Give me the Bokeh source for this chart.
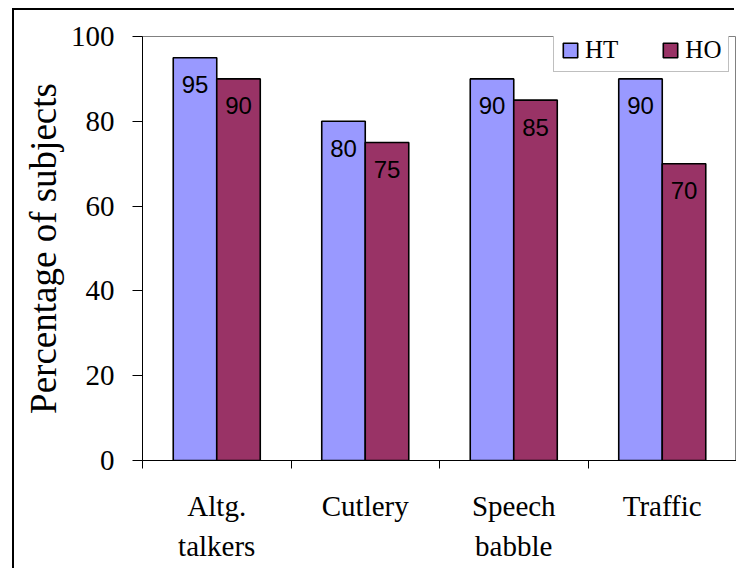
from bokeh.plotting import figure
from bokeh.models import (ColumnDataSource, Range1d, FixedTicker, Legend, LegendItem)
from bokeh.transform import dodge
from bokeh.core.properties import value
from bokeh.embed import file_html
from bokeh.resources import INLINE

# ---- data ----
categories = ["Altg.\ntalkers", "Cutlery", "Speech\nbabble", "Traffic"]
ht_values = [95, 80, 90, 90]
ho_values = [90, 75, 85, 70]
series_names = ["HT", "HO"]
y_ticks = [0, 20, 40, 60, 80, 100]

HT_COLOR = "#9999FF"
HO_COLOR = "#993366"
SERIF = "Liberation Serif"
SANS = "Liberation Sans"

centers = [i + 0.5 for i in range(len(categories))]
src = ColumnDataSource(dict(
    x=centers,
    ht=ht_values,
    ho=ho_values,
    ht_txt=[str(v) for v in ht_values],
    ho_txt=[str(v) for v in ho_values],
))

W, H = 722, 560
LEFT, TOP, BOTTOM = 128, 26, 110
cat_px = 148.5
frame_w = W - LEFT
x_end = frame_w / cat_px

p = figure(width=W, height=H, output_backend="svg", toolbar_location=None,
           x_range=Range1d(0, x_end), y_range=Range1d(0, 100),
           min_border_left=LEFT, min_border_top=TOP, min_border_bottom=BOTTOM,
           min_border_right=0, background_fill_color="white",
           border_fill_color="white")
p.styles = {"margin-left": "14px", "margin-top": "10px",
            "box-shadow": "-2px -2px 0px 0px black"}

p.xgrid.visible = False
p.ygrid.visible = False
p.outline_line_color = "#808080"
p.outline_line_width = 1

bw = 0.293
off = bw / 2
r_ht = p.vbar(x=dodge("x", -off), top="ht", width=bw, source=src,
              fill_color=HT_COLOR, line_color="black", line_width=1.6)
r_ho = p.vbar(x=dodge("x", off), top="ho", width=bw, source=src,
              fill_color=HO_COLOR, line_color="black", line_width=1.6)

for col, d in (("ht_txt", -off), ("ho_txt", off)):
    yname = "ht" if col == "ht_txt" else "ho"
    p.text(x=dodge("x", d), y=yname, text=col, source=src,
           text_font=value(SANS), text_font_size="24px", text_color="black",
           text_align="center", text_baseline="middle", y_offset=27)

# y axis
ya = p.yaxis[0]
ya.ticker = FixedTicker(ticks=y_ticks, minor_ticks=[])
ya.axis_line_color = "black"
ya.major_tick_line_color = "black"
ya.major_tick_in = 0
ya.major_tick_out = 10
ya.minor_tick_line_color = None
ya.major_label_text_font = SERIF
ya.major_label_text_font_size = "29px"
ya.major_label_text_color = "black"
ya.major_label_standoff = 18
ya.axis_label = "Percentage of subjects"
ya.axis_label_text_font = SERIF
ya.axis_label_text_font_size = "37px"
ya.axis_label_text_font_style = "normal"
ya.axis_label_text_color = "black"
ya.axis_label_standoff = 4

# x axis: labels at category centres, ticks at category boundaries
xa = p.xaxis[0]
xa.ticker = FixedTicker(ticks=centers,
                        minor_ticks=list(range(len(categories) + 1)))
xa.major_label_overrides = {c: lab for c, lab in zip(centers, categories)}
xa.axis_line_color = "black"
xa.major_tick_line_color = None
xa.major_tick_in = 0
xa.major_tick_out = 0
xa.minor_tick_line_color = "black"
xa.minor_tick_in = 0
xa.minor_tick_out = 8
xa.major_label_text_font = SERIF
xa.major_label_text_font_size = "29px"
xa.major_label_text_color = "black"
xa.major_label_text_line_height = 1.28
xa.major_label_standoff = 21

legend = Legend(items=[LegendItem(label=series_names[0], renderers=[r_ht]),
                       LegendItem(label=series_names[1], renderers=[r_ho])],
                orientation="horizontal", location=(411, 388),
                glyph_width=18, glyph_height=18, label_standoff=6, spacing=43,
                padding=7, margin=0,
                label_text_font=SERIF, label_text_font_size="25px",
                label_text_color="black",
                border_line_color="#808080", border_line_width=1,
                background_fill_color="white", background_fill_alpha=1)
p.add_layout(legend, "center")

open("out.html", "w").write(file_html(p, INLINE))
